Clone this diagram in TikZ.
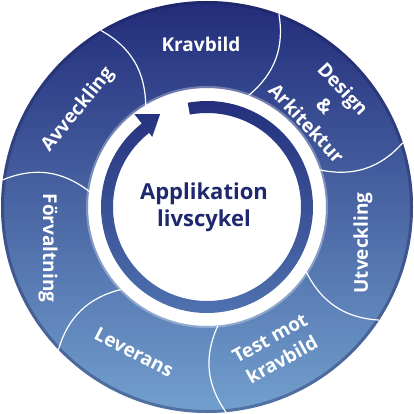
\documentclass[tikz,border=0pt]{standalone}
\usepackage{fontspec}
\setmainfont{Open Sans}
\definecolor{ringtop}{RGB}{34,44,122}
\definecolor{ringmid}{RGB}{58,88,158}
\definecolor{ringbot}{RGB}{114,160,206}
\definecolor{textblue}{RGB}{30,40,110}
\tikzset{
  lbl/.style={text=white,font=\fontsize{19}{25}\selectfont\bfseries,align=center,inner sep=0pt},
  sep/.style={white,line width=1.2pt},
}
\begin{document}
\begin{tikzpicture}[x=1pt,y=1pt]
	\useasboundingbox (-207,-207) rectangle (207,207);
	% ring and its rim
	\shade[top color=ringtop,middle color=ringmid,bottom color=ringbot,even odd rule]
		(0,0) circle (206) (0,0) circle (119);
	\draw[ringtop!70!black,opacity=.35,line width=3pt] (0,0) circle (204.5);
	\draw[white,opacity=.3,line width=2pt] (0,0) circle (120);
	% segment borders
	\foreach \a in {0,...,6}
		\draw[sep] (121-\a*51.43:206) to[bend left=30] (121-\a*51.43:119);
	% inner arrow
	\shade[top color=ringtop,bottom color=ringmid!60!ringbot]
		(100.5:106) arc[start angle=100.5,end angle=-232,radius=106]
		-- (-232:94) arc[start angle=-232,end angle=100.5,radius=94] -- cycle
		(128:118) -- (116.8:104) -- (128:89) -- cycle;
	% labels
	\node[lbl]            (krav) at (-6,163)   {Kravbild};
	\node[lbl,rotate=-47] (des)  at (118,101)  {Design\\\&\\Arkitektur};
	\node[lbl,rotate=90]  (utv)  at (156,-36)  {Utveckling};
	\node[lbl,rotate=29]  (test) at (69,-142)  {Test mot\\kravbild};
	\node[lbl,rotate=-27] (lev)  at (-73,-145) {Leverans};
	\node[lbl,rotate=-90] (forv) at (-159,-41) {Förvaltning};
	\node[lbl,rotate=51]  (avv)  at (-129,97)  {Avveckling};
	\node[text=textblue,font=\fontsize{22}{27}\selectfont\bfseries,align=center] (mid) at (-3,0) {Applikation\\livscykel};
\end{tikzpicture}
\end{document}
